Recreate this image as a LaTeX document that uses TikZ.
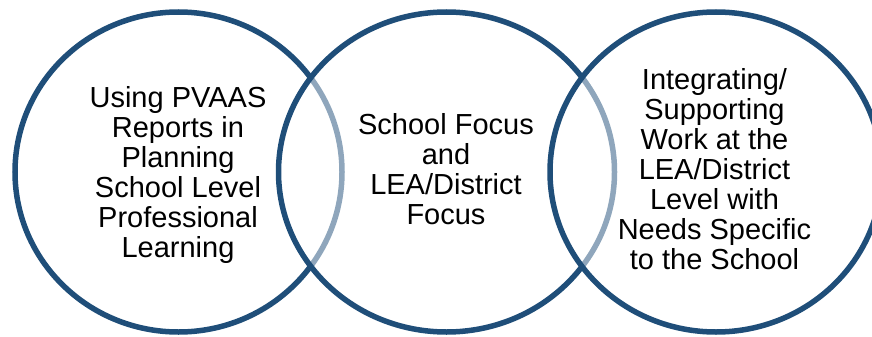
\documentclass[tikz,border=0pt]{standalone}
\usepackage{fontspec}
\setmainfont{Liberation Sans}
\usetikzlibrary{shapes.geometric}
\definecolor{ringblue}{RGB}{31,78,121}
\begin{document}
\begin{tikzpicture}[x=1pt,y=-1pt,
  ring/.style={ellipse, draw=ringblue, line width=5.5pt, inner sep=0pt,
    minimum height=320pt},
  veil/.style={fill=white, fill opacity=0.5},
  label/.style={align=center, text=black, inner sep=0pt,
    font=\fontsize{29}{30}\selectfont}]
\useasboundingbox (0,0) rectangle (872,337);
% three overlapping rings; later rings veil the arcs they cover
\node[ring, minimum width=327pt] (left) at (178.5,172) {};
\node[ring, veil, minimum width=336pt] (middle) at (446.5,172) {};
\node[ring, veil, minimum width=332pt] (right) at (716,172) {};
% ring captions
\node[label] (lefttext) at (178,174.5)
  {Using PVAAS\\Reports in\\Planning\\School Level\\Professional\\Learning};
\node[label] (middletext) at (446,169.5)
  {School Focus\\and\\LEA/District\\Focus};
\node[label] (righttext) at (714.5,169.5)
  {Integrating/\\Supporting\\Work at the\\LEA/District\\Level with\\Needs Specific\\to the School};
\end{tikzpicture}
\end{document}
